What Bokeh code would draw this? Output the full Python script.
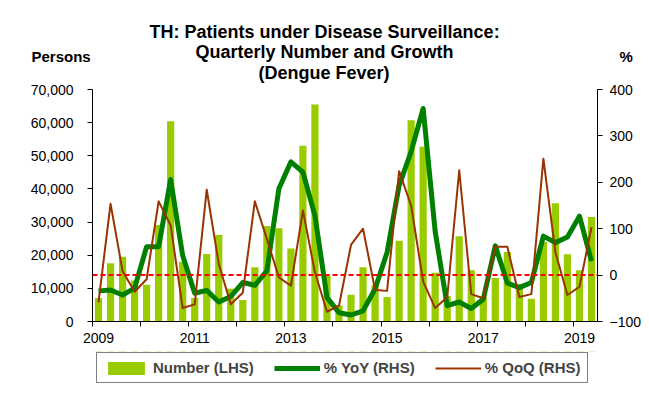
from bokeh.plotting import figure
from bokeh.layouts import column
from bokeh.models import (Range1d, LinearAxis, FixedTicker, NumeralTickFormatter, Span,
                          Legend, LegendItem, Title, ColumnDataSource)
from bokeh.embed import file_html
from bokeh.resources import INLINE

# ---------------- data (quarterly, 2009Q1 .. 2019Q2) ----------------
years = ["2009", "2010", "2011", "2012", "2013", "2014", "2015", "2016", "2017", "2018", "2019"]
year_labels = ["2009", "2011", "2013", "2015", "2017", "2019"]

number = [7070, 17600, 19500, 12400, 11100, 29100, 60400, 18000, 7100, 20400, 26100, 9900,
          6500, 16400, 28800, 28100, 22000, 53000, 65500, 13900, 4800, 8100, 16400, 11000,
          7400, 24400, 60700, 52700, 14700, 7700, 25700, 15500, 7500, 13100, 21000, 11300,
          6900, 24000, 35700, 20300, 15500, 31500]
yoy = [-34, -32, -43, -28, 61, 61, 206, 42, -39, -33, -58, -46,
       -16, -22, 9, 186, 244, 222, 128, -48, -81, -86, -77, -30,
       49, 193, 266, 359, 94, -66, -58, -72, -52, 63, -17, -27,
       -16, 84, 70, 82, 127, 30]
qoq = [-59, 154, 9, -36, -9, 159, 107, -71, -63, 184, 24, -63,
       -38, 159, 78, -5, -23, 139, 6, -79, -66, 65, 100, -32,
       -34, 224, 150, -14, -71, -48, 226, -41, -50, 61, 61, -47,
       -41, 251, 49, -43, -25, 103]

title_lines = ["TH: Patients under Disease Surveillance:", "Quarterly Number and Growth", "(Dengue Fever)"]
legend_labels = ["Number (LHS)", "% YoY (RHS)", "% QoQ (RHS)"]

n = len(number)
xs = [i + 0.5 for i in range(n)]
src = ColumnDataSource(data=dict(x=xs, number=number, yoy=yoy, qoq=qoq))

FONT = "Liberation Sans"
BAR_COLOR = "#99CC00"
YOY_COLOR = "#008000"
QOQ_COLOR = "#993300"

# frame: left 92, right 597, top 89, bottom 321  -> 505 x 232 px
p = figure(width=633, height=351, frame_width=505, frame_height=232,
           output_backend="svg", toolbar_location=None,
           x_range=Range1d(0, n), y_range=Range1d(0, 70000),
           x_axis_type=None, y_axis_type=None,
           min_border_left=92, min_border_right=36, min_border_top=89, min_border_bottom=30)
p.outline_line_color = None
p.extra_y_ranges = {"right": Range1d(-100, 400)}


def style_axis(ax, size="14px"):
    ax.axis_line_color = "black"
    ax.axis_line_width = 1
    ax.major_tick_line_color = "black"
    ax.major_tick_in = 0
    ax.major_tick_out = 5
    ax.minor_tick_line_color = None
    ax.major_label_text_font = FONT
    ax.major_label_text_font_size = size
    ax.major_label_text_color = "black"


left = LinearAxis(ticker=FixedTicker(ticks=list(range(0, 70001, 10000))),
                  formatter=NumeralTickFormatter(format="0,0"))
style_axis(left)
left.major_label_standoff = 14
p.add_layout(left, "left")

right = LinearAxis(y_range_name="right", ticker=FixedTicker(ticks=list(range(-100, 401, 100))))
style_axis(right)
right.major_label_standoff = 7
p.add_layout(right, "right")

# year-boundary tick marks (labels hidden)
xticks = LinearAxis(ticker=FixedTicker(ticks=[4 * i for i in range(len(years))]))
style_axis(xticks, size="1px")
xticks.major_label_text_color = None
xticks.major_label_standoff = 0
p.add_layout(xticks, "below")

# year labels at Q1 of every other year
lab_pos = [8 * i + 0.5 for i in range(len(year_labels))]
xlabels = LinearAxis(ticker=FixedTicker(ticks=lab_pos),
                     major_label_overrides={pos: lab for pos, lab in zip(lab_pos, year_labels)})
style_axis(xlabels)
xlabels.axis_line_color = None
xlabels.major_tick_line_color = None
xlabels.major_tick_out = 0
xlabels.major_label_standoff = 6
p.add_layout(xlabels, "below")

bars = p.vbar(x="x", top="number", width=0.6, source=src, fill_color=BAR_COLOR, line_color=None)
zero = Span(location=0, dimension="width", y_range_name="right", line_color="#FF0000",
            line_dash="5 3", line_width=2)
p.add_layout(zero)
l_yoy = p.line(x="x", y="yoy", source=src, y_range_name="right", line_color=YOY_COLOR,
               line_width=5, line_join="round")
l_qoq = p.line(x="x", y="qoq", source=src, y_range_name="right", line_color=QOQ_COLOR,
               line_width=2, line_join="round")

# ---------------- titles (rows stacked upward from the frame) ----------------
def add_title(text, size, offset, standoff):
    t = Title(text=text, align="left", offset=offset, standoff=standoff, vertical_align="middle",
              text_font=FONT, text_font_style="bold", text_font_size=size, text_color="black")
    p.add_layout(t, "above")

add_title(title_lines[2], "18px", 166, 11)     # row 0 (closest to frame)
add_title("Persons", "15px", -61, -19)          # zero-height row
add_title("%", "15px", 527, -19)                # zero-height row
add_title(title_lines[1], "18px", 103, -12)
add_title(title_lines[0], "18px", 57, 7)

# ---------------- legend strip (separate figure below the chart) ----------------
# the same series are attached here with a y range far from the data, so only
# their legend swatches show
leg = figure(width=633, height=42, frame_width=505, frame_height=42,
             output_backend="svg", toolbar_location=None,
             x_range=Range1d(0, n), y_range=Range1d(-1000, -900),
             x_axis_type=None, y_axis_type=None,
             min_border_left=92, min_border_right=36, min_border_top=0, min_border_bottom=0)
leg.outline_line_color = None
leg.xgrid.visible = False
leg.ygrid.visible = False
g_bar = leg.vbar(x="x", top="number", width=0.6, source=src, fill_color=BAR_COLOR, line_color=None)
g_yoy = leg.line(x="x", y="yoy", source=src, line_color=YOY_COLOR, line_width=5)
g_qoq = leg.line(x="x", y="qoq", source=src, line_color=QOQ_COLOR, line_width=2)

legend = Legend(items=[LegendItem(label=legend_labels[0], renderers=[g_bar]),
                       LegendItem(label=legend_labels[1], renderers=[g_yoy]),
                       LegendItem(label=legend_labels[2], renderers=[g_qoq])],
                orientation="horizontal", location=(4, 10),
                border_line_color="black", border_line_width=1, background_fill_color="white",
                background_fill_alpha=1.0,
                label_text_font=FONT, label_text_font_style="bold", label_text_font_size="15px",
                glyph_width=46, glyph_height=16, label_height=16,
                label_standoff=4, spacing=20, padding=6, margin=0)
leg.add_layout(legend, "center")

layout = column(p, leg, spacing=0)
open("out.html", "w").write(file_html(layout, INLINE))
